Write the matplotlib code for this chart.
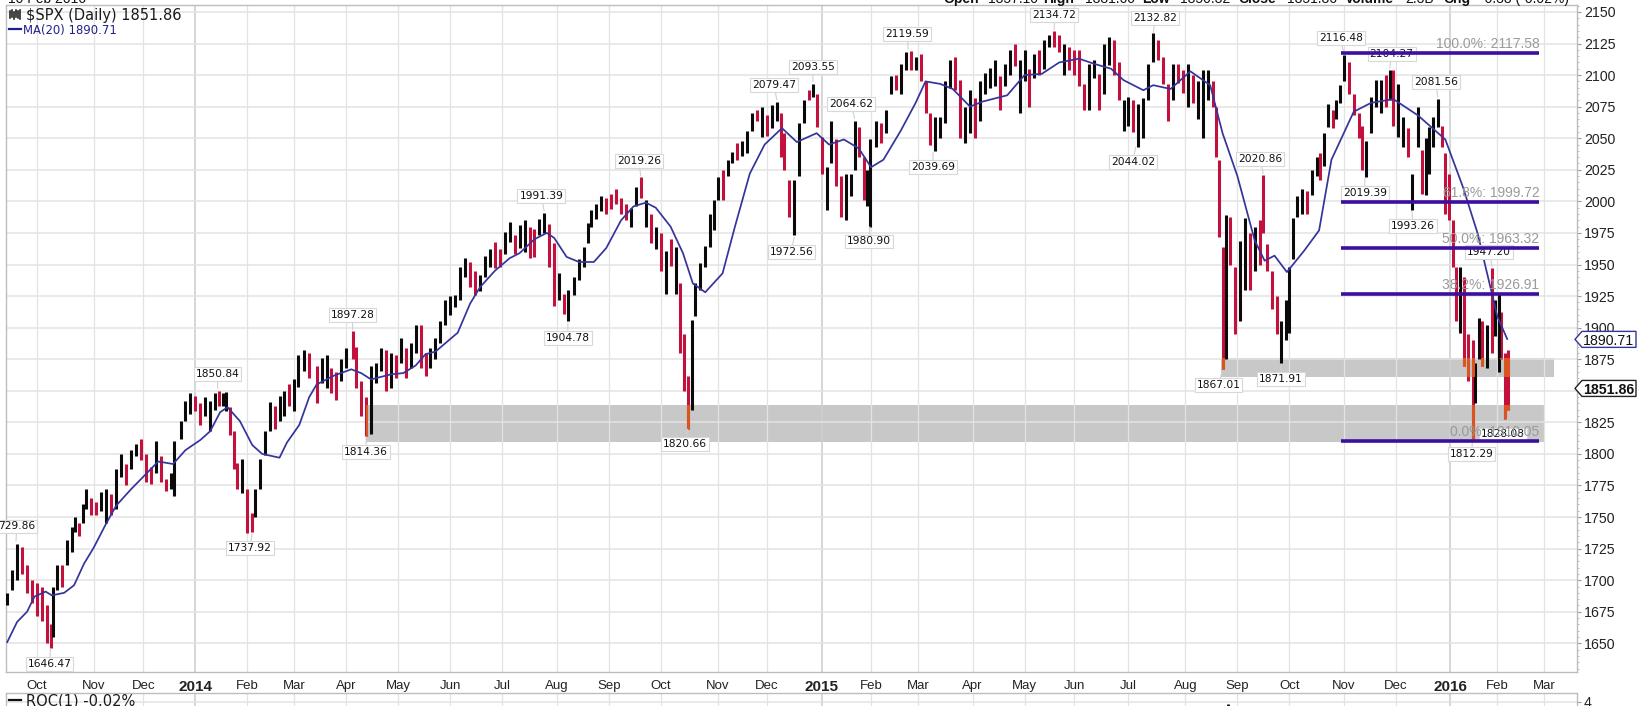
import matplotlib
matplotlib.use("Agg")
import matplotlib.pyplot as plt
from matplotlib.patches import Rectangle, Polygon
from matplotlib.lines import Line2D

W, H = 1652, 706
plt.rcParams['font.family'] = ['Liberation Sans', 'DejaVu Sans']

# ---------- data ----------
bar_x = [-12,-10,-8,-6,-4,-2,0,2,4,5.5,
 6.5,8,10,12,14,15.5,17,18.5,20,22,
 24,26,28,30,32,34,36,38,40,42,
 44,46,48,50,52,54,55.5,58,60,62,
 64,66,68,70,72,73.5,75,76.5,78,79.5,
 81,83,85,87,88,90,92,94,96,98,
 100,102,104,105.5,108,110,113,115,117,119,
 121,123,125,127.5,129,131,133,135,137,139,
 141,143,145,147,149,151,153,155,157,159,
 161,163,165,167,169,171,173,175,177,179,
 181,183,185,187,189,191,193,195,197,199,
 201,203,205,207,209,211,213,214.5,217,219,
 221,222.5,224,226,228,230,232,234,236,238,
 240,242,244,246,248,250,252,254,256,258,
 260,261.5,263,264.5,266,268,270,272,273.5,275,
 277,279,281,283,285,287,289,291,293,295,
 297,299,300.5,302,304,306,308,310,312,313.5,
 315,317,319,321,323,325,327,329,330.5,332,
 334,335.5,336.5,339,341,343,345,347,349,351,
 353,355,357,359,361,363,365,367,369,371,
 373,375,377,379,381,383,385,387,389,391,
 393,395,397,399,401,403,405,407,409,411,
 413,415,417,419,421,423,425,427,429,431,
 433,435,437,439,441,443,445,447,449,451,
 453,455,457,459,461,463,465,467,469,471,
 473,475,476.5,477.5,479,480.5,482,484,486,488,
 490,492,494,495.5,497,499,501,502.5,504.5,506,
 507.5,509,511,513,515,517,518.5,520,521.5,523.5,
 525,526.5,528,530,532,534,535.5,537,539,541,
 543,545,546.5,548,550,552,554,555.5,558,559.5,
 561,562.5,564,566,567.5,569,570.5,572,573.5,575,
 576.5,578,580,581,582.5,584,586,588,589,590.5,
 591.5,593,594.5]
bar_hi = [1690,1708,1729,1726,1712,1700,1698,1695,1680,1665,
 1695,1712,1712,1732,1742,1750,1745,1760,1772,1765,
 1762,1770,1772,1768,1788,1800,1792,1803,1808,1812,
 1800,1790,1810,1798,1780,1785,1810,1826,1842,1848,
 1846,1840,1845,1842,1848,1850,1848,1849,1837,1818,
 1793,1796,1772,1753,1772,1796,1818,1841,1838,1846,
 1850,1855,1859,1878,1882,1880,1870,1876,1878,1868,
 1865,1875,1884,1897,1885,1858,1845,1870,1872,1884,
 1882,1880,1878,1892,1884,1888,1902,1902,1880,1884,
 1892,1905,1922,1925,1926,1948,1955,1952,1945,1942,
 1957,1962,1968,1962,1976,1984,1973,1981,1985,1980,
 1978,1986,1991,1982,1967,1943,1927,1930,1940,1954,
 1964,1983,1993,1998,2004,2003,2006,2010,2003,1998,
 1995,2011,2019,2001,1990,1980,1975,1961,1970,1964,
 1935,1895,1862,1906,1935,1951,1965,1990,2001,2019,
 2025,2033,2039,2046,2048,2056,2070,2072,2075,2068,
 2076,2079,2070,2054,2017,2017,2062,2080,2088,2093,
 2085,2051,2027,2064,2049,2020,2022,2022,2064,2059,
 2035,2025,2049,2064,2062,2072,2099,2100,2109,2118,
 2119,2114,2117,2095,2070,2067,2067,2095,2112,2114,
 2096,2075,2088,2082,2095,2102,2106,2112,2099,2109,
 2120,2125,2112,2120,2105,2117,2120,2128,2132,2135,
 2132,2125,2122,2120,2120,2093,2109,2112,2101,2125,
 2130,2128,2110,2080,2083,2080,2077,2082,2109,2133,
 2128,2114,2093,2109,2109,2104,2109,2100,2095,2104,
 2104,2095,2075,2033,1964,1989,1988,1948,1969,1987,
 1975,1980,1985,2021,1966,1945,1925,1905,1922,1948,
 1987,2004,2010,2008,2025,2035,2038,2054,2077,2072,
 2080,2092,2116,2110,2085,2070,2060,2048,2083,2096,
 2096,2100,2104,2104,2093,2067,2058,2022,2075,2041,
 2050,2059,2067,2081,2060,2038,2022,1985,1948,1948,
 1940,1895,1890,1872,1908,1905,1902,1947,1922,1927,
 1912,1880,1882]
bar_lo = [1680,1692,1700,1705,1690,1682,1672,1668,1650,1646,
 1655,1692,1695,1712,1722,1738,1735,1745,1756,1752,
 1752,1755,1745,1752,1756,1782,1775,1788,1798,1795,
 1778,1776,1785,1778,1771,1772,1767,1812,1826,1832,
 1834,1823,1830,1818,1835,1838,1838,1834,1815,1788,
 1772,1769,1737,1738,1750,1772,1799,1818,1820,1826,
 1830,1838,1834,1853,1866,1860,1840,1856,1852,1848,
 1843,1858,1868,1875,1852,1830,1814,1816,1856,1866,
 1850,1852,1860,1872,1860,1868,1880,1868,1862,1868,
 1875,1888,1902,1910,1916,1922,1940,1932,1926,1929,
 1940,1948,1947,1948,1958,1968,1958,1963,1960,1955,
 1956,1973,1975,1948,1917,1922,1911,1905,1926,1938,
 1948,1967,1980,1986,1992,1990,1994,1998,1990,1985,
 1980,1996,2003,1980,1967,1962,1945,1927,1949,1927,
 1880,1850,1820,1835,1909,1930,1948,1964,1977,2001,
 2001,2020,2030,2033,2036,2038,2056,2064,2051,2052,
 2058,2064,2035,2025,1988,1973,2020,2062,2080,2083,
 2059,2022,1993,2030,2012,1988,1985,2004,2025,2035,
 2001,1996,1980,2043,2046,2054,2085,2088,2085,2104,
 2104,2104,2095,2070,2045,2040,2050,2062,2090,2088,
 2050,2046,2054,2050,2064,2085,2090,2091,2072,2091,
 2100,2107,2070,2095,2075,2098,2100,2105,2122,2122,
 2118,2100,2104,2100,2091,2072,2072,2098,2072,2085,
 2108,2100,2080,2056,2060,2055,2043,2050,2080,2110,
 2112,2093,2064,2080,2094,2086,2075,2078,2065,2050,
 2080,2075,2035,1972,1867,1875,1950,1895,1905,1930,
 1930,1945,1950,1975,1945,1915,1895,1872,1890,1896,
 1954,1988,1990,1990,2005,2020,2017,2028,2059,2058,
 2065,2078,2095,2085,2068,2050,2025,2019,2054,2075,
 2070,2075,2080,2060,2051,2043,2035,1993,2043,2006,
 2005,2022,2043,2059,2043,1990,1985,1948,1905,1896,
 1870,1858,1812,1840,1875,1870,1868,1880,1893,1865,
 1875,1828,1835]
bar_up = [1,1,1,0,0,0,0,0,0,0,
 1,1,0,1,1,1,0,1,1,0,
 0,1,1,0,1,1,0,1,1,0,
 0,0,1,0,0,1,1,1,1,1,
 0,0,1,1,1,0,1,1,0,0,
 0,1,0,0,1,1,1,1,0,1,
 1,0,1,1,1,0,0,1,1,0,
 0,1,1,0,0,0,0,1,1,1,
 0,1,0,1,0,1,1,0,0,1,
 1,1,1,1,1,1,1,0,0,1,
 1,1,0,0,1,1,0,1,1,0,
 0,1,1,0,0,1,0,1,1,1,
 1,1,1,1,1,0,0,0,0,0,
 1,1,0,1,0,1,0,1,0,1,
 0,0,0,1,1,1,1,1,1,1,
 0,1,1,0,1,1,1,0,1,0,
 1,1,0,0,0,1,1,1,0,1,
 0,0,1,1,0,0,1,1,1,0,
 0,1,1,1,0,1,1,0,1,1,
 0,1,0,0,0,1,1,1,1,0,
 0,1,1,0,1,1,1,1,0,1,
 1,0,1,1,0,1,0,1,1,0,
 0,1,0,0,0,0,1,1,0,1,
 1,0,0,1,1,0,1,1,1,1,
 0,0,0,1,0,0,1,0,1,1,
 1,0,0,0,0,1,0,0,1,1,
 0,1,0,0,0,0,0,1,1,1,
 1,1,1,0,1,1,0,1,1,0,
 1,1,1,0,0,0,0,1,1,1,
 1,0,1,0,1,1,0,1,1,0,
 1,1,1,1,0,0,0,0,0,1,
 0,0,0,1,1,0,1,0,1,1,
 0,0,0]

ma_x = [-12,-8,-4,-1,3.5,6,11,15,19,23,28,32,38,45,49,55,60,66,70,74,77,82,87,91,98,101,106,110,113,120,127,131,135,143,148,153,157,
 161,170,175,179,185,191,195,201,206,209,214,219,225,230,236,241,246,250,256,261,265,270,277,282,288,294,301,307,315,320,326,332,337,342,349,355,359,365,370,377,382,392,399,406,413,421,427,
 434,439,447,451,458,466,474,479,485,492,496,500,505,512,518,523,532,539,548,558,569,576,582,590,594]
ma_v = [1651,1667,1675,1687,1691,1688,1690,1696,1713,1726,1745,1759,1772,1786,1794,1792,1803,1811,1818,1833,1837,1826,1807,1800,1797,1809,1823,1845,1855,1862,1867,1864,1859,1863,1864,1870,1879,
 1881,1896,1919,1932,1945,1955,1959,1970,1975,1971,1956,1952,1952,1963,1985,1996,1999,1995,1980,1959,1935,1928,1943,1980,2022,2045,2058,2047,2054,2045,2049,2042,2027,2033,2056,2078,2095,2093,2089,2075,2079,2084,2100,2101,2110,2113,2109,
 2105,2096,2088,2092,2089,2103,2092,2054,2020,1969,1953,1957,1944,1961,1977,2033,2071,2078,2081,2068,2049,2012,1975,1909,1891]

peak_text = ["729.86","1646.47","1850.84","1737.92","1897.28","1814.36","1991.39","1904.78","2019.26","1820.66",
 "2079.47","2093.55","2064.62","1972.56","1980.90","2119.59","2039.69","2134.72","2132.82","2044.02",
 "2020.86","1867.01","1871.91","2116.48","2104.27","2081.56","2019.39","1993.26","1947.20","1812.29","1828.08"]
peak_x = [-8.5,5.5,73,87,127.5,133,205,214.5,244,263,
 299,313.5,330.5,306,336.5,352,362,411,451,444,
 495.5,479,502.5,528,546.5,566,536.5,555.5,588,580,594]
peak_v = [1729.86,1646.47,1850.84,1737.92,1897.28,1814.36,1991.39,1904.78,2019.26,1820.66,
 2079.47,2093.55,2064.62,1972.56,1980.90,2119.59,2039.69,2134.72,2132.82,2044.02,
 2020.86,1867.01,1871.91,2116.48,2104.27,2081.56,2019.39,1993.26,1947.20,1812.29,1828.08]
peak_above = [1,0,1,0,1,0,1,0,1,0,
 1,1,1,0,0,1,0,1,1,0,
 1,0,0,1,1,1,0,0,1,0,0]
peak_shift = [1,-1,0,-2,0,0,-3,0,-2,-3,
 -3,0,-4,-3,-1,-1,0,0,2,-3,
 -3,-4,0,-3,2,-2,0,1,-3,-1,-4]

fib_text = ["100.0%: 2117.58","61.8%: 1999.72","50.0%: 1963.32","38.2%: 1926.91","0.0%: 1810.05"]
fib_v = [2117.58,1999.72,1963.32,1926.91,1810.05]
fib_start, fib_end = 527, 607

band_lo = [1809.5,1861]
band_hi = [1838.4,1876]
band_start = [133,478.5]
band_end = [609,613]

month_x = [0,23,43,64,85,104,125,146,167,188,210,231,252,275,295,317,337,356,378,399,419,441,464,485,506,528,549,571,590,609]
month_lab = ["Oct","Nov","Dec","2014","Feb","Mar","Apr","May","Jun","Jul","Aug","Sep","Oct","Nov","Dec","2015","Feb","Mar","Apr","May","Jun","Jul","Aug","Sep","Oct","Nov","Dec","2016","Feb","Mar"]
price_ticks = list(range(1650, 2151, 25))
last_close = 1851.86
last_ma = 1890.71
roc_x = [481]
roc_v = [3.5]

assert len(bar_x) == len(bar_hi) == len(bar_lo) == len(bar_up)
assert len(ma_x) == len(ma_v)

# ---------- layout ----------
BLACK = '#0a0a0a'; RED = '#c4103c'; ORANGE = '#d9541e'; NAVY = '#34349a'; FIB = '#3d0f9e'
GRID = '#e3e3e3'; YEAR = '#cfcfcf'; FRAME = '#bdbdbd'
BAR_LW = 2.2

fig = plt.figure(figsize=(W/100, H/100), dpi=100, facecolor='white')
def rect(l, t, r, b):
    return [l/W, 1-b/H, (r-l)/W, (b-t)/H]
ax = fig.add_axes(rect(6, 5, 1577, 672))
ax2 = fig.add_axes(rect(6, 693, 1577, 708))
ax.set_xlim(-12.5, 622.2)
ax.set_ylim(1627.3, 2155.5)
ax2.set_xlim(-12.5, 622.2)
ax2.set_ylim(2.6, 5.9)

for a in (ax, ax2):
    a.set_axisbelow(True)
    for s in a.spines.values():
        s.set_color(FRAME); s.set_linewidth(1.0)
    a.yaxis.tick_right()
    for x, lab in zip(month_x, month_lab):
        is_year = lab.isdigit()
        a.axvline(x, color=YEAR if is_year else GRID, lw=1.2 if is_year else 0.9, zorder=2)

for p in price_ticks:
    ax.axhline(p, color=GRID, lw=1.1, zorder=2)
ax2.axhline(4, color=GRID, lw=1.1, zorder=2)

ax.set_yticks(price_ticks)
ax.set_yticks(range(1630, 2156, 5), minor=True)
ax.tick_params(axis='y', which='major', length=3, width=0.8, color='#999999', pad=2, labelsize=10.2, labelcolor='#222222')
ax.tick_params(axis='y', which='minor', length=1.5, width=0.6, color='#aaaaaa')
ax.set_xticks(month_x)
ax.set_xticklabels(month_lab, fontsize=9.5, color='#222222')
ax.tick_params(axis='x', length=0, pad=6)
for t in ax.get_xticklabels():
    if t.get_text().isdigit():
        t.set_fontweight('bold'); t.set_fontsize(11)
ax2.set_xticks([])
ax2.set_yticks([4])
ax2.set_yticklabels(['4'], fontsize=10.2, color='#222222')
ax2.tick_params(axis='y', length=3, width=0.8, color='#999999', pad=2)

# bands
band_patches = []
for lo, hi, s, e in zip(band_lo, band_hi, band_start, band_end):
    r = Rectangle((s, lo), e-s, hi-lo, facecolor='#c8c8c8', edgecolor='none', zorder=1)
    ax.add_patch(r)
    band_patches.append(r)

# bars
xs_up = [x for x, u in zip(bar_x, bar_up) if u]
hi_up = [h for h, u in zip(bar_hi, bar_up) if u]
lo_up = [l for l, u in zip(bar_lo, bar_up) if u]
xs_dn = [x for x, u in zip(bar_x, bar_up) if not u]
hi_dn = [h for h, u in zip(bar_hi, bar_up) if not u]
lo_dn = [l for l, u in zip(bar_lo, bar_up) if not u]
ax.vlines(xs_dn, lo_dn, hi_dn, color=RED, lw=BAR_LW, zorder=3)
ax.vlines(xs_up, lo_up, hi_up, color=BLACK, lw=BAR_LW, zorder=3.1)
for r in band_patches:
    c = ax.vlines(xs_dn, lo_dn, hi_dn, color=ORANGE, lw=BAR_LW, zorder=3.2)
    c.set_clip_path(r)

# MA
ax.plot(ma_x, ma_v, color=NAVY, lw=1.25, zorder=4)

# peak labels
for txt, x, v, up, dx in zip(peak_text, peak_x, peak_v, peak_above, peak_shift):
    sign = 1 if up else -1
    ax.annotate(txt, xy=(x, v), xycoords='data',
                xytext=(dx, sign*16), textcoords='offset pixels',
                ha='center', va='center', fontsize=7.7, family='DejaVu Sans', color='#111111',
                bbox=dict(boxstyle='square,pad=0.18', fc='white', ec='#d8d8d8', lw=0.8),
                arrowprops=dict(arrowstyle='-', color='#d0d0d0', lw=0.8, shrinkA=0, shrinkB=1),
                zorder=5, annotation_clip=False)

# fib
for txt, v in zip(fib_text, fib_v):
    ax.plot([fib_start, fib_end], [v, v], color=FIB, lw=2.6, solid_capstyle='butt', zorder=6)
    ax.annotate(txt, xy=(fib_end, v), xytext=(0, 9), textcoords='offset pixels',
                ha='right', va='center', fontsize=10, color='#9a9a9a', zorder=7)

# header (clipped by the top edge)
def top(x, s, bold=False):
    fig.text(x/W, 1-3/H, s, fontsize=10, color='#111111', fontweight='bold' if bold else 'normal',
             ha='left', va='baseline')
top(8, "10 Feb 2016")
for x, s, b in [(943,"Open",True),(988,"1857.10",False),(1043,"High",True),(1085,"1881.60",False),
                (1142,"Low",True),(1180,"1850.32",False),(1238,"Close",True),(1287,"1851.86",False),
                (1345,"Volume",True),(1405,"2.3B",False),(1443,"Chg",True),(1480,"-0.38 (-0.02%)",False)]:
    top(x, s, b)

# legend
fig.text(26/W, 1-20/H, "$SPX (Daily) 1851.86".replace("$", r"\$"), fontsize=10.5, family='DejaVu Sans', color='#1a1a1a', va='baseline')
fig.text(23/W, 1-34/H, "MA(20) 1890.71", fontsize=8.4, color='#20208a', va='baseline', family='DejaVu Sans')
fig.add_artist(Line2D([9/W, 21/W], [1-29/H]*2, color='#20208a', lw=1.6))
for px, (a, b) in zip([10, 12, 14, 16, 18, 20], [(11,18),(10,17),(12,19),(10,17),(11,18),(10,19)]):
    fig.add_artist(Line2D([px/W, px/W], [1-a/H, 1-b/H], color='#111111', lw=1.1))

# price tags
fig.canvas.draw()
def tag(val, ec, bold):
    y = ax.transData.transform((0, val))[1]
    hh = 8
    pts = [(1575, y), (1582, y+hh), (1636, y+hh), (1636, y-hh), (1582, y-hh)]
    pts = [(a/W, b/H) for a, b in pts]
    fig.add_artist(Polygon(pts, closed=True, fc='white', ec=ec, lw=1.0, transform=fig.transFigure, zorder=10))
    fig.text(1609/W, y/H, f"{val:.2f}", fontsize=10.2, ha='center', va='center_baseline',
             fontweight='bold' if bold else 'normal', color='#111111', zorder=11)
tag(last_ma, NAVY, False)
tag(last_close, '#222222', True)

# ROC panel
ax2.vlines(roc_x, 0, roc_v, color=BLACK, lw=2.0, zorder=3)
fig.text(26/W, 1-705/H, "ROC(1) -0.02%", fontsize=10.5, family='DejaVu Sans', color='#1a1a1a', va='baseline')
fig.add_artist(Line2D([9/W, 21/W], [1-700/H]*2, color='#111111', lw=1.6))

fig.savefig("out.png", dpi=100, facecolor='white')
